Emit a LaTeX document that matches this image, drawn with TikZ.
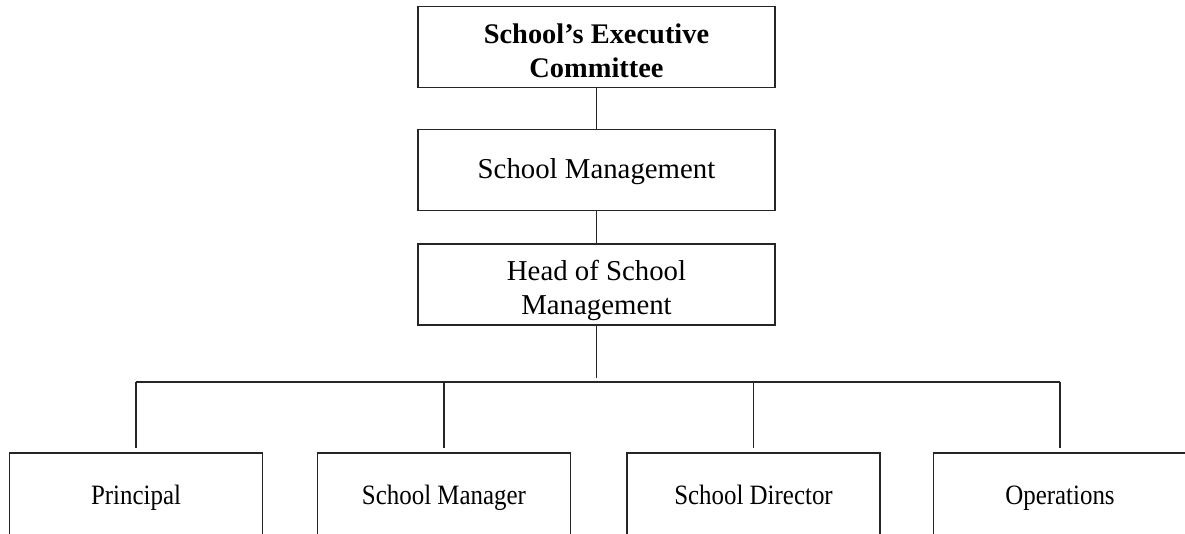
\documentclass[tikz,border=0pt]{standalone}
\usepackage{fontspec}
\setmainfont{Liberation Serif}
\newfontfamily\narrowserif[FakeStretch=0.89]{Liberation Serif}
\newcommand{\twolines}[3]{\raisebox{#1}[0pt][0pt]{\begin{tabular}{@{}c@{}}#2\\#3\end{tabular}}}
\begin{document}
\begin{tikzpicture}[x=1pt,y=-1pt,
  topbox/.style={draw=black!85, line width=1.6pt, minimum width=357pt, minimum height=81pt,
    align=center, inner sep=0pt, font=\fontsize{28.8}{33.5}\selectfont},
  botbox/.style={draw=black!85, line width=1.6pt, minimum width=253pt, minimum height=90pt,
    inner sep=0pt, text height=19pt, text depth=7pt, font=\narrowserif\fontsize{28}{33}\selectfont},
  link/.style={draw=black!85, line width=1.6pt}]
\useasboundingbox (0,0) rectangle (1185,534);
\clip (0,0) rectangle (1185,534);
\node[topbox, font=\bfseries\fontsize{28.4}{34}\selectfont] (exec) at (596.5,47) {\twolines{-13pt}{School’s Executive}{Committee}};
\node[topbox, text height=22pt, text depth=4pt] (mgmt) at (596.5,170) {School Management};
\node[topbox] (head) at (596.5,284.5) {\twolines{-12.5pt}{Head of School}{Management}};
\node[botbox] (p1) at (136,498) {Principal};
\node[botbox] (p2) at (444,498) {School Manager};
\node[botbox] (p3) at (753.5,498) {School Director};
\node[botbox] (p4) at (1060,498) {Operations};
\coordinate (trunk) at (596.5,378);
\coordinate (hl) at (136,382);
\coordinate (hr) at (1060,382);
\draw[link] (exec) -- (mgmt);
\draw[link] (mgmt) -- (head);
\draw[link] (head) -- (trunk);
\draw[link] (hl) -- (hr);
\draw[link] (hl) -- ([yshift=4pt]p1.north);
\draw[link] (p2.north |- hl) -- ([yshift=4pt]p2.north);
\draw[link] (p3.north |- hl) -- ([yshift=4pt]p3.north);
\draw[link] (hr) -- ([yshift=4pt]p4.north);
\end{tikzpicture}
\end{document}
